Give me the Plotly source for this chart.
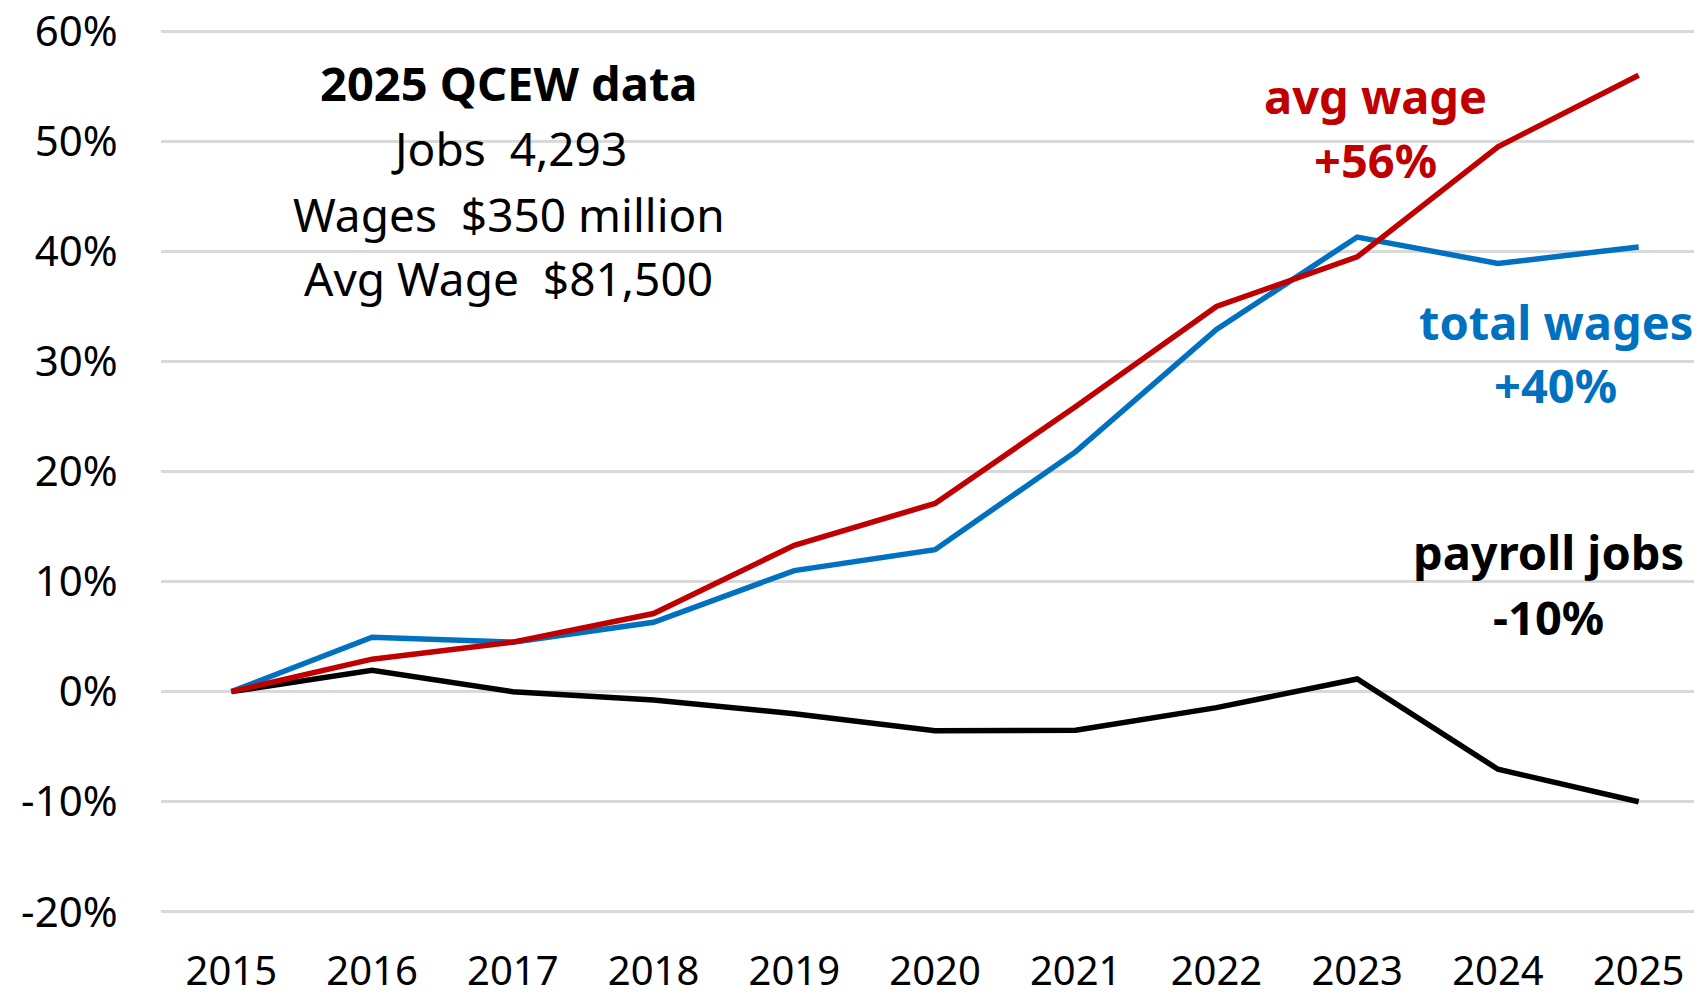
# %%
# import packages
import plotly.graph_objects as go

# %%
# data (% change since 2015)
years = ["2015", "2016", "2017", "2018", "2019", "2020",
         "2021", "2022", "2023", "2024", "2025"]
total_wages = [0, 4.95, 4.5, 6.3, 11.0, 12.9, 21.8, 32.9, 41.3, 38.9, 40.4]
avg_wage = [0, 2.95, 4.5, 7.1, 13.3, 17.1, 25.9, 35.0, 39.5, 49.5, 56.0]
payroll_jobs = [0, 1.95, 0, -0.75, -2.0, -3.55, -3.5, -1.45, 1.15, -7.05, -10.0]
y_ticks = [-20, -10, 0, 10, 20, 30, 40, 50, 60]
y_tick_labels = ["-20%", "-10%", "0%", "10%", "20%", "30%", "40%", "50%", "60%"]

# %%
# colors
RED = "#C00000"
BLUE = "#0070C0"
BLACK = "#000000"
FONT = "Noto Sans"

# %%
# create traces
data = [
    go.Scatter(x=years, y=payroll_jobs, mode="lines", name="payroll jobs",
               line=dict(color=BLACK, width=5.5)),
    go.Scatter(x=years, y=total_wages, mode="lines", name="total wages",
               line=dict(color=BLUE, width=5.5)),
    go.Scatter(x=years, y=avg_wage, mode="lines", name="avg wage",
               line=dict(color=RED, width=5.5)),
]

# %%
# text labels
def note(text, x, y, color=BLACK, bold=False):
    return dict(
        text=f"<b>{text}</b>" if bold else text,
        x=x, y=y, xref="x", yref="y",
        xanchor="center", yanchor="middle",
        showarrow=False,
        font=dict(family=FONT, size=47 if bold else 46, color=color),
    )

annotations = [
    note("2025 QCEW data", 1.97, 55.3, bold=True),
    note("Jobs\u00a0 4,293", 1.97, 49.4),
    note("Wages\u00a0 $350 million", 1.97, 43.4),
    note("Avg Wage\u00a0 $81,500", 1.97, 37.6),
    note("avg wage", 8.13, 54.1, RED, True),
    note("+56%", 8.13, 48.3, RED, True),
    note("total wages", 9.41, 33.6, BLUE, True),
    note("+40%", 9.41, 27.9, BLUE, True),
    note("payroll jobs", 9.36, 12.65, BLACK, True),
    note("-10%", 9.36, 6.8, BLACK, True),
]

# %%
# create layout (page body adds an 8px offset, so the figure is 8px smaller)
layout = go.Layout(
    width=1694,
    height=989,
    showlegend=False,
    plot_bgcolor="white",
    paper_bgcolor="white",
    margin=dict(l=153, r=0, t=21, b=83),
    font=dict(family=FONT, size=41, color=BLACK),
    xaxis=dict(
        type="category",
        range=[-0.5, 10.45],
        automargin=False,
        showgrid=False,
        showline=False,
        zeroline=False,
        ticks="outside",
        ticklen=0,
        ticklabelstandoff=22,
        ticklabeloverflow="allow",
        tickfont=dict(size=40),
    ),
    yaxis=dict(
        range=[-20.2, 60.2],
        automargin=False,
        tickvals=y_ticks,
        ticktext=y_tick_labels,
        showgrid=True,
        gridcolor="#D9D9D9",
        gridwidth=3,
        zeroline=False,
        showline=False,
        ticks="outside",
        ticklen=0,
        ticklabelstandoff=34,
        ticklabeloverflow="allow",
        tickfont=dict(size=42),
    ),
    annotations=annotations,
)

# %%
# create fig
fig = go.Figure(data=data, layout=layout)
fig.write_html("out.html")
